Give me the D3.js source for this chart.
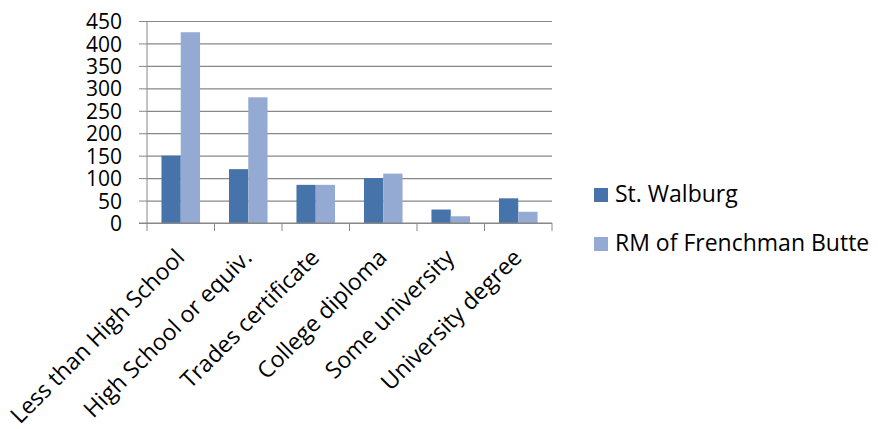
<!DOCTYPE html>
<html>
<head>
<meta charset="utf-8">
<script src="https://cdn.jsdelivr.net/npm/d3@7"></script>
<style>
  body { margin: 0; background: #fff; }
  text { font-family: "Open Sans", sans-serif; fill: #000; }
</style>
</head>
<body>
<div id="wrapper"></div>
<script>
const categories = [
    "Less than High School",
    "High School or equiv.",
    "Trades certificate",
    "College diploma",
    "Some university",
    "University degree",
]
const stWalburg = [150, 120, 85, 100, 30, 55]
const frenchmanButte = [425, 280, 85, 110, 15, 25]
const seriesNames = ["St. Walburg", "RM of Frenchman Butte"]
const seriesColors = ["#4674AA", "#95AAD3"]
const yTicks = [0, 50, 100, 150, 200, 250, 300, 350, 400, 450]

const dimensions = {
    width: 878,
    height: 429,
    margin: { top: 21, left: 147 },
    boundedWidth: 405,
    boundedHeight: 202,
}

const wrapper = d3.select("#wrapper")
    .append("svg")
    .attr("width", dimensions.width)
    .attr("height", dimensions.height)

const bounds = wrapper.append("g")
    .attr("transform", `translate(${dimensions.margin.left}, ${dimensions.margin.top})`)

const xScale = d3.scaleBand()
    .domain(categories)
    .range([0, dimensions.boundedWidth])

// gap width 150%: 2 bars + 1.5 bar of gap per category
const barUnit = xScale.bandwidth() / 3.5
const innerScale = d3.scaleBand()
    .domain([0, 1])
    .range([barUnit * 0.75, xScale.bandwidth() - barUnit * 0.75])

const yScale = d3.scaleLinear()
    .domain([0, 450])
    .range([dimensions.boundedHeight, 0])

// gridlines
const grid = bounds.append("g")
    .call(d3.axisLeft(yScale).tickValues(yTicks).tickSize(-dimensions.boundedWidth).tickFormat(""))
grid.select(".domain").remove()
grid.selectAll("line").attr("stroke", "#878787").attr("stroke-width", 1.2)

// y axis
const yAxis = bounds.append("g")
    .call(d3.axisLeft(yScale).tickValues(yTicks).tickSize(8).tickPadding(17))
yAxis.select(".domain").attr("stroke", "#878787").attr("d", `M0,0V${dimensions.boundedHeight}`)
yAxis.selectAll("line").attr("stroke", "#878787")
yAxis.selectAll("text")
    .style("font-size", "21px")
    .attr("dy", "0.36em")

// bars
const series = [stWalburg, frenchmanButte]
series.forEach((values, s) => {
    bounds.append("g")
        .selectAll("rect")
        .data(values)
        .join("rect")
        .attr("x", (d, i) => xScale(categories[i]) + innerScale(s))
        .attr("y", d => yScale(d))
        .attr("width", innerScale.bandwidth())
        .attr("height", d => dimensions.boundedHeight - yScale(d))
        .attr("fill", seriesColors[s])
})

// x axis
const xAxis = bounds.append("g")
    .attr("transform", `translate(0, ${dimensions.boundedHeight})`)
xAxis.append("line")
    .attr("x1", -8).attr("x2", dimensions.boundedWidth)
    .attr("stroke", "#878787").attr("stroke-width", 1.2)
xAxis.selectAll(".tick")
    .data(d3.range(categories.length + 1))
    .join("line")
    .attr("class", "tick")
    .attr("x1", i => i * xScale.step())
    .attr("x2", i => i * xScale.step())
    .attr("y1", 0).attr("y2", 8)
    .attr("stroke", "#878787")
xAxis.selectAll(".label")
    .data(categories)
    .join("text")
    .attr("class", "label")
    .attr("text-anchor", "end")
    .attr("transform", d => `translate(${xScale(d) + xScale.bandwidth() / 2 + 5}, 36) rotate(-45)`)
    .style("font-size", "23px")
    .text(d => d)

// legend
const legend = wrapper.append("g")
    .attr("transform", "translate(594, 188)")
const items = legend.selectAll("g")
    .data(seriesNames)
    .join("g")
    .attr("transform", (d, i) => `translate(0, ${i * 49})`)
items.append("rect")
    .attr("width", 14).attr("height", 14)
    .attr("fill", (d, i) => seriesColors[i])
items.append("text")
    .attr("x", 21).attr("y", 14)
    .style("font-size", "23px")
    .text(d => d)
</script>
</body>
</html>
